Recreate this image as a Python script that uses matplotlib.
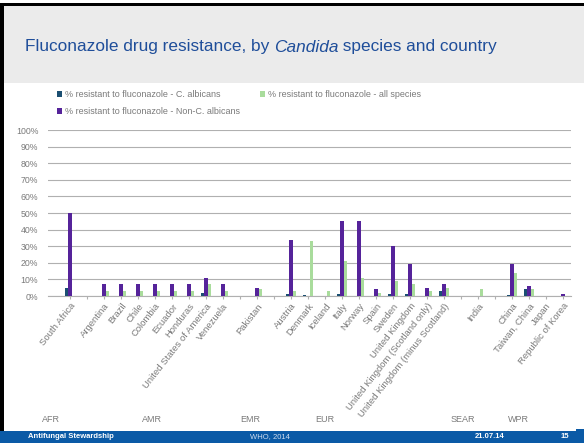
import matplotlib
matplotlib.use("Agg")
import matplotlib.pyplot as plt
from matplotlib.patches import Rectangle
from matplotlib.transforms import blended_transform_factory
import numpy as np

plt.rcParams['font.family'] = ['Liberation Sans', 'DejaVu Sans']

# slots: '' = empty gap between regions
countries = ['South Africa', '', 'Argentina', 'Brazil', 'Chile', 'Colombia', 'Ecuador',
             'Honduras', 'United States of America', 'Venezuela', '', 'Pakistan', '',
             'Austria', 'Denmark', 'Iceland', 'Italy', 'Norway', 'Spain', 'Sweden',
             'United Kingdom', 'United Kingdom (Scotland only)',
             'United Kingdom (minus Scotland)', '', 'India', '', 'China', 'Taiwan, China',
             'Japan', 'Republic of Korea']
c_albicans = [5, 0, 0, 0, 0, 0, 0, 0, 2, 0, 0, 0, 0,
              1, 0.5, 0, 1, 0, 0, 1, 1, 0, 3, 0, 0, 0, 0.5, 4, 0, 0]
non_albicans = [50, 0, 7, 7, 7, 7, 7, 7, 11, 7, 0, 5, 0,
                34, 0, 0, 45, 45, 4, 30, 19, 5, 7, 0, 0, 0, 19, 6, 0, 1.5]
all_species = [0, 0, 3, 3, 3, 3, 3, 3, 7, 3, 0, 4, 0,
               3, 33, 3, 21, 11, 2, 9, 7, 3, 5, 0, 4, 0, 14, 4, 0, 0]
regions = ['AFR', 'AMR', 'EMR', 'EUR', 'SEAR', 'WPR']
region_x = [-1.1, 4.8, 10.6, 15.0, 23.1, 26.4]

lbl_alb = '% resistant to fluconazole - C. albicans'
lbl_non = '% resistant to fluconazole - Non-C. albicans'
lbl_all = '% resistant to fluconazole - all species'

grey_txt = '#7a7a7a'
fig = plt.figure(figsize=(5.84, 4.43), dpi=100)
fig.patch.set_facecolor('white')

# slide decoration
fig.patches.append(Rectangle((0, 1 - 83/443), 1, 80/443, transform=fig.transFigure,
                             facecolor='#ebebeb', edgecolor='none', zorder=0))
fig.patches.append(Rectangle((0, 1 - 6/443), 1, 3/443, transform=fig.transFigure,
                             facecolor='black', edgecolor='none', zorder=1))
fig.patches.append(Rectangle((0, 12/443), 4/584, 1 - 15/443, transform=fig.transFigure,
                             facecolor='black', edgecolor='none', zorder=1))
fig.patches.append(Rectangle((0, 0), 1, 12/443, transform=fig.transFigure,
                             facecolor='#0b5aa6', edgecolor='none', zorder=1))
fig.patches.append(Rectangle((576/584, 12/443), 8/584, 2/443, transform=fig.transFigure,
                             facecolor='#0b5aa6', edgecolor='none', zorder=1))

# title in three pieces so "Candida" can be italic in the same font
renderer = fig.canvas.get_renderer()
tx = 25/584
for piece, style in [('Fluconazole drug resistance, by ', 'normal'),
                     ('Candida', 'italic'),
                     (' species and country', 'normal')]:
    t = fig.text(tx, 1 - 47/443, piece, fontsize=12.4, color='#1f4e9a', va='center',
                 ha='left', style=style)
    bb = t.get_window_extent(renderer)
    tx = bb.x1 / fig.bbox.width

fig.text(28/584, 6/443, 'Antifungal Stewardship', fontsize=5.5, color='white',
         weight='bold', va='center')
fig.text(270/584, 6/443, 'WHO, 2014', fontsize=5.5, color='#d0ddef',
         va='center', ha='center')
fig.text(490/584, 6/443, '21.07.14', fontsize=5.5, color='white', weight='bold',
         va='center', ha='center')
fig.text(565/584, 6/443, '15', fontsize=5.5, color='white', weight='bold',
         va='center', ha='center')

ax = fig.add_axes([48/584, 147/443, 523/584, 166/443])
x = np.arange(len(countries))
w = 0.2
ax.bar(x - w, c_albicans, w, color='#1b4f72', label=lbl_alb, zorder=3)
ax.bar(x, non_albicans, w, color='#55239a', label=lbl_non, zorder=3)
ax.bar(x + w, all_species, w, color='#a9dc9c', label=lbl_all, zorder=3)

ax.set_xlim(-1.29, 29.47)
ax.set_ylim(0, 100)
ax.set_yticks(np.arange(0, 101, 10))
ax.set_yticklabels([f'{v}%' for v in range(0, 101, 10)])
ax.grid(axis='y', color='#b0b0b0', linewidth=0.8, zorder=0)
for s in ['top', 'right', 'left']:
    ax.spines[s].set_visible(False)
ax.spines['bottom'].set_color('#b0b0b0')
ax.tick_params(axis='y', length=0, labelsize=6.3, labelcolor=grey_txt, pad=7)
ax.set_xticks(x)
ax.set_xticklabels(countries, rotation=52, ha='right', rotation_mode='anchor')
ax.tick_params(axis='x', length=2, color='#b0b0b0', labelsize=6.8, labelcolor=grey_txt, pad=2)

leg = ax.legend(loc='lower left', bbox_to_anchor=(0.01, 1.06), ncol=2, frameon=False,
                fontsize=6.5, handlelength=0.6, handleheight=0.6, columnspacing=2.2,
                labelspacing=0.9, handletextpad=0.3, borderaxespad=0)
for t in leg.get_texts():
    t.set_color(grey_txt)

tr = blended_transform_factory(ax.transData, fig.transFigure)
for r, rx in zip(regions, region_x):
    ax.text(rx, 1 - 420/443, r, transform=tr, fontsize=6.5, color=grey_txt,
            ha='center', va='center')

fig.savefig('out.png', dpi=100)
